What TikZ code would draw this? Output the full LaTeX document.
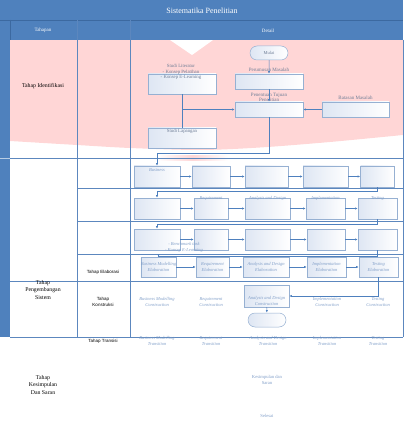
\documentclass[tikz,border=0pt]{standalone}
\usepackage{fontspec}
\setmainfont{Liberation Serif}
\setsansfont{Liberation Sans}
\usepackage{tikz}
\usetikzlibrary{
    arrows.meta,
    positioning,
    shapes.misc
}
\usepackage{xcolor}
\definecolor{headblue}{RGB}{79,129,189}
\definecolor{headline}{RGB}{60,105,160}
\definecolor{gridblue}{RGB}{92,135,190}
\definecolor{pinkbg}{RGB}{255,214,214}
\definecolor{boxline}{RGB}{150,176,210}
\definecolor{boxfill}{RGB}{222,230,243}
\definecolor{lbltext}{RGB}{128,158,200}
\definecolor{idtext}{RGB}{110,125,150}
\definecolor{arrowblue}{RGB}{78,128,190}

\begin{document}
\begin{tikzpicture}[
    x=1pt, y=-1pt,
    box/.style={
        rectangle, draw=boxline, line width=0.5pt,
        left color=boxfill, right color=white,
        inner sep=0pt, minimum height=20pt,
        align=center, text=lbltext,
        font=\fontsize{4.5}{5.5}\selectfont\itshape
    },
    terminal/.style={
        rounded rectangle, draw=boxline, line width=0.5pt,
        left color=boxfill, right color=white,
        inner sep=0pt, minimum width=38pt, minimum height=14pt,
        text=idtext, font=\fontsize{4.5}{5}\selectfont
    },
    lbl/.style={font=\fontsize{4.5}{5.8}\selectfont\itshape, text=lbltext, align=center, inner sep=0pt},
    idlbl/.style={font=\fontsize{5}{5.6}\selectfont, text=idtext, align=center, inner sep=0pt},
    tahap/.style={font=\fontsize{5.8}{7.4}\selectfont, align=center, inner sep=0pt},
    fase/.style={font=\sffamily\fontsize{4.5}{6}\selectfont, align=center, inner sep=0pt},
    headtxt/.style={text=white, inner sep=0pt, font=\fontsize{5}{6}\selectfont},
    arrow/.style={-{Latex[length=2.6pt, width=2.2pt]}, arrowblue, line width=0.5pt},
    link/.style={arrowblue, line width=0.5pt},
    grid/.style={gridblue, line width=0.5pt}
]
\useasboundingbox (0,0) rectangle (407,430);

% Background of Identifikasi (y=40..150)
\fill[pinkbg] (403,40) -- plot[smooth] coordinates {(403,135) (330,142) (260,147.5) (200,150) (130,148) (77,145) (10,141)} -- (10,40) -- cycle;
\fill[white] (170,40) -- (213,40) -- (192,55) -- cycle;
\shade[left color=white, right color=white, middle color=pinkbg] (157,155.5) rectangle (228,161);

% Header
\fill[headblue] (0,0) rectangle (403,40);
\fill[headblue] (0,40) rectangle (10,337);
\draw[headline, line width=0.4pt] (0,20) -- (403,20);
\draw[headline, line width=0.4pt] (10,20) -- (10,40);
\node[text=white, inner sep=0pt, font=\fontsize{8}{9}\selectfont] (judul) at (202,11) {Sistematika Penelitian};
\node[headtxt] (tahapan) at (43,30.5) {Tahapan};
\node[headtxt] (detail) at (268,30.5) {Detail};

% Grid
\draw[grid] (77,20) -- (77,337);
\draw[grid] (130,20) -- (130,337);
\draw[grid] (403,40) -- (403,337);
\draw[grid] (10,158) -- (403,158);
\draw[white!60!headblue, line width=0.5pt] (0,158) -- (10,158);
\draw[grid] (77,188) -- (403,188);
\draw[grid] (77,221) -- (403,221);
\draw[grid] (77,254) -- (403,254);
\draw[grid] (10,281) -- (403,281);
\draw[grid] (10,337) -- (403,337);

% Tahapan
\node[tahap] (t1) at (43,86) {Tahap Identifikasi};
\node[tahap] (t2) at (43,290) {Tahap\\Pengembangan\\Sistem};
\node[tahap] (t3) at (43,385) {Tahap\\Kesimpulan\\Dan Saran};
\node[fase] (elab) at (103,272) {Tahap Elaborasi};
\node[fase] (kons) at (103,302) {Tahap\\Konstruksi};
\node[fase] (tran) at (103,341) {Tahap Transisi};

% Identifikasi flow
\node[terminal] (mulai) at (269,53) {Mulai};
\node[box, minimum width=68pt, minimum height=15pt] (perumusan) at (269,81.5) {};
\node[box, minimum width=68pt, minimum height=15pt] (penentuan) at (269,109.5) {};
\node[box, minimum width=67pt, minimum height=15pt] (batasan) at (355.5,109.5) {};
\node[box, minimum width=68pt] (literatur) at (182,84) {};
\node[box, minimum width=68pt] (lapangan) at (182,138) {};

\node[idlbl] (perumusanlbl) at (269,70) {Perumusan Masalah};
\node[idlbl] (penentuanlbl) at (269,97.5) {Penentuan Tujuan\\Penelitian};
\node[idlbl] (batasanlbl) at (355.5,98) {Batasan Masalah};
\node[idlbl, font=\fontsize{4.8}{5.6}\selectfont] (literaturlbl) at (181,72) {Studi Literatur\\- Konsep Pelatihan\\- Konsep E-Learning};
\node[idlbl, font=\fontsize{4.8}{5.6}\selectfont] (lapanganlbl) at (182,131) {Studi Lapangan};

\draw[arrow] (mulai) -- (perumusan);
\draw[arrow] (perumusan) -- (penentuan);
\draw[arrow] (batasan) -- (penentuan);
\draw[link] (literatur) -- (lapangan);
\coordinate (studi) at (literatur.south |- penentuan.west);
\draw[arrow] (studi) -- (penentuan.west);

% Iterasi 1 (y=176.5)
\node[box, minimum width=46pt, minimum height=21pt] (a1) at (157,176.5) {};
\node[box, minimum width=38pt, minimum height=21pt] (a2) at (211,176.5) {};
\node[box, minimum width=43pt, minimum height=21pt] (a3) at (266.5,176.5) {};
\node[box, minimum width=45pt, minimum height=21pt] (a4) at (325.5,176.5) {};
\node[box, minimum width=34pt, minimum height=21pt] (a5) at (377.5,176.5) {};
\node[lbl] (a1lbl) at (157,170) {Business};

% Iterasi 2 (y=208.5)
\node[box, minimum width=46pt, minimum height=21pt] (b1) at (157,208.5) {};
\node[box, minimum width=34pt, minimum height=21pt] (b2) at (211,208.5) {};
\node[box, minimum width=45pt, minimum height=21pt] (b3) at (267.5,208.5) {};
\node[box, minimum width=39pt, minimum height=21pt] (b4) at (325.5,208.5) {};
\node[box, minimum width=39pt, minimum height=21pt] (b5) at (377.5,208.5) {};
\node[lbl] (b2lbl) at (211,198.5) {Requirement};
\node[lbl] (b3lbl) at (267.5,198.5) {Analysis and Design};
\node[lbl] (b4lbl) at (325.5,198.5) {Implementation};
\node[lbl] (b5lbl) at (377.5,198.5) {Testing};

% Iterasi 3 (y=239.5)
\node[box, minimum width=46pt, minimum height=21pt] (c1) at (157,239.5) {};
\node[box, minimum width=34pt, minimum height=21pt] (c2) at (211,239.5) {};
\node[box, minimum width=45pt, minimum height=21pt] (c3) at (267.5,239.5) {};
\node[box, minimum width=38pt, minimum height=21pt] (c4) at (326,239.5) {};
\node[box, minimum width=39pt, minimum height=21pt] (c5) at (377.5,239.5) {};
\node[lbl] (c1lbl) at (184,247.5) {- Benchmark task\\- Konsep E-Learning};

% Elaborasi (y=267)
\node[box] (d1) at (158.5,267) {Business Modelling\\Elaboration};
\node[box, minimum width=33pt] (d2) at (212.5,267) {Requirement\\Elaboration};
\node[box, minimum width=46pt] (d3) at (266,267) {Analysis and Design\\Elaboration};
\node[box, minimum width=39pt] (d4) at (326.5,267) {Implementation\\Elaboration};
\node[box, minimum width=39pt] (d5) at (378.5,267) {Testing\\Elaboration};

% Konstruksi (y=302)
\node[lbl] (e1) at (157,302) {Business Modelling\\Construction};
\node[lbl] (e2) at (211,302) {Requirement\\Construction};
\node[box, minimum width=45pt, minimum height=22pt] (adk) at (266.5,296) {};
\node[lbl] (e3) at (266.5,301) {Analysis and Design\\Construction};
\node[lbl] (e4) at (327,302) {Implementation\\Construction};
\node[lbl] (e5) at (378,302) {Testing\\Construction};
\node[terminal] (akhir) at (267,320) {};

% Transisi (y=341)
\node[lbl] (f1) at (157,341) {Business Modelling\\Transition};
\node[lbl] (f2) at (211,341) {Requirement\\Transition};
\node[lbl] (f3) at (268,341) {Analysis and Design\\Transition};
\node[lbl] (f4) at (327,341) {Implementation\\Transition};
\node[lbl] (f5) at (378,341) {Testing\\Transition};

% Kesimpulan
\node[idlbl, text=lbltext, font=\fontsize{4.6}{5.8}\selectfont] (kesimpulan) at (267,380) {Kesimpulan dan\\Saran};
\node[idlbl, text=lbltext, font=\fontsize{4.6}{5.8}\selectfont] (selesai) at (267,416) {Selesai};

% Row flows
\draw[arrow] (a1) -- (a2);
\draw[arrow] (a2) -- (a3);
\draw[arrow] (a3) -- (a4);
\draw[arrow] (a4) -- (a5);
\draw[arrow] (b1) -- (b2);
\draw[arrow] (b2) -- (b3);
\draw[arrow] (b3) -- (b4);
\draw[arrow] (b4) -- (b5);
\draw[arrow] (c1) -- (c2);
\draw[arrow] (c2) -- (c3);
\draw[arrow] (c3) -- (c4);
\draw[arrow] (c4) -- (c5);
\draw[arrow] (d1) -- (d2);
\draw[arrow] (d2) -- (d3);
\draw[arrow] (d3) -- (d4);
\draw[arrow] (d4) -- (d5);

% Iteration loops
\draw[arrow] (penentuan.south) -- ++(0,36) -| (a1.north);
\draw[arrow] (a5.south) -- ++(0,4) -| (b1.north);
\draw[arrow] (b5.south) -- ++(0,5) -| (c1.north);
\draw[arrow] (c5.south) -- ++(0,5.5) -| (d1.north);
\draw[arrow] (d5.south) |- (adk.east);
\draw[arrow] (adk) -- (akhir);

\end{tikzpicture}
\end{document}
